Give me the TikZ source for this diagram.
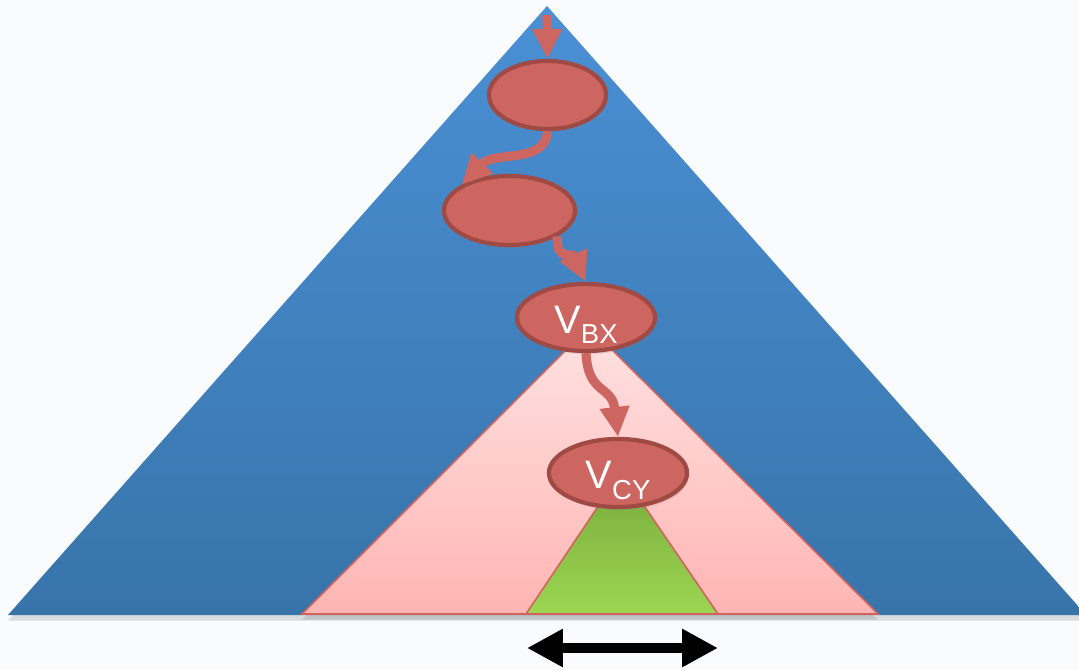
\documentclass[tikz,border=0pt]{standalone}
\usepackage{fontspec}
\setmainfont{Liberation Sans}
\usetikzlibrary{shapes.geometric, arrows.meta, shadows}
\definecolor{bgcol}{HTML}{FAFBFC}
\definecolor{bluetop}{HTML}{4A90D5}
\definecolor{bluebot}{HTML}{3874AA}
\definecolor{pinktop}{HTML}{FFE2E2}
\definecolor{pinkbot}{HTML}{FFB5B3}
\definecolor{greentop}{HTML}{78AA3C}
\definecolor{greenbot}{HTML}{9CD652}
\definecolor{edgered}{HTML}{D4625C}
\definecolor{vertfill}{HTML}{CD6660}
\definecolor{vertline}{HTML}{A04A46}
\newcommand{\vname}[1]{V\raisebox{-3pt}{\fontsize{7.8}{9}\selectfont #1}}
\tikzset{
  vert/.style={ellipse, draw=vertline, fill=vertfill, line width=1.2pt, inner sep=0pt,
    text=white, font=\fontsize{11.3}{13}\selectfont, text height=9pt, text depth=0pt,
    drop shadow={opacity=0.2, shadow xshift=0.4pt, shadow yshift=-0.9pt}},
  walk/.style={draw=vertfill, line width=2.6pt, -{Triangle[length=8.5pt,width=8pt]}},
  widtharrow/.style={draw=black, line width=3.1pt,
    {Triangle[length=10.2pt,width=10.2pt]}-{Triangle[length=10.2pt,width=10.2pt]}}}

\begin{document}
\begin{tikzpicture}[x=0.01cm, y=-0.01cm,
    tri/.style={drop shadow={opacity=0.25, shadow xshift=0pt, shadow yshift=-1.6pt}}]
  \useasboundingbox (0,0) rectangle (1079,670);
  \clip (0,0) rectangle (1079,670);
  \fill[bgcol] (0,0) rectangle (1079,670);

  % search tree and subtrees
  \path[tri, top color=bluetop, bottom color=bluebot] (547,6) -- (8,615) -- (1086,615) -- cycle;
  \path[tri, top color=pinktop, bottom color=pinkbot, draw=edgered, line width=0.45pt]
    (589,327) -- (302,614) -- (878,614) -- cycle;
  \path[top color=greentop, bottom color=greenbot, draw=edgered, line width=0.45pt]
    (621,472) -- (526,614) -- (718,614) -- cycle;

  % vertices on the path
  \node[vert, minimum width=1.17cm, minimum height=0.68cm] (e1) at (547.5,95) {};
  \node[vert, minimum width=1.31cm, minimum height=0.69cm] (e2) at (509.5,210.5) {};
  \node[vert, minimum width=1.38cm, minimum height=0.67cm] (vbx) at (586,317.5) {\vname{BX}};
  \node[vert, minimum width=1.38cm, minimum height=0.68cm] (vcy) at (618,473) {\vname{CY}};

  \coordinate (top) at (547,15);
  \draw[walk] (top) -- (e1.north);
  \draw[walk] (e1.south) .. controls (545,165) and (495,150) .. (e2.north west);
  \draw[walk] (e2.south east) .. controls (556,262) and (572,252) .. (vbx.north);
  \draw[walk] (vbx.south) .. controls (588,395) and (612,385) .. (vcy.north);

  % width of the leaf range
  \coordinate (wl) at (527,648);
  \coordinate (wr) at (718,648);
  \draw[widtharrow] (wl) -- (wr);
\end{tikzpicture}
\end{document}
